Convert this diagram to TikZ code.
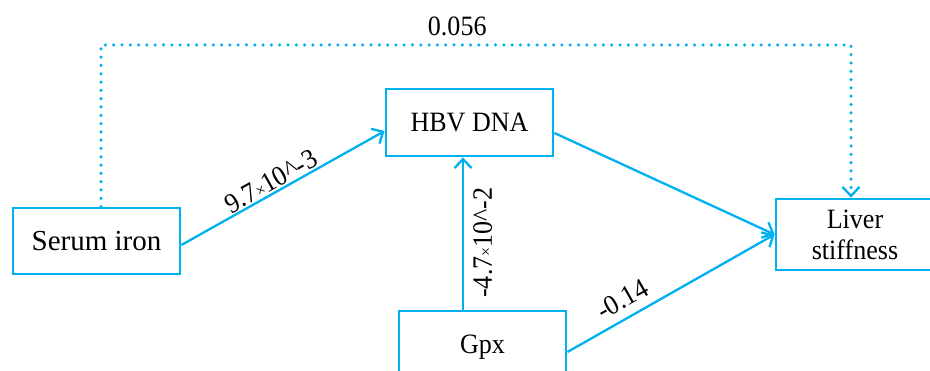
\documentclass[tikz,border=0pt]{standalone}
\usepackage{fontspec}
\setmainfont{Liberation Serif}[FakeStretch=0.93]
\newfontfamily\wideserif{Liberation Serif}
\usetikzlibrary{arrows.meta}
\definecolor{lblue}{RGB}{0,176,240}
\newcommand{\smx}{{\fontsize{17}{17}\selectfont\raisebox{0.5pt}{×}}}
\begin{document}
\begin{tikzpicture}[x=1pt,y=-1pt,
  box/.style={draw=lblue, line width=2.8pt, inner sep=0pt, align=center,
    font=\fontsize{28}{31}\selectfont},
  conn/.style={draw=lblue, line width=2.3pt,
    -{Straight Barb[length=9pt,width=17pt,line width=2.3pt]}},
  dotconn/.style={conn, dash pattern=on 0pt off 8.3pt, line cap=round, line width=3.5pt},
  lab/.style={font=\fontsize{28}{31}\selectfont, inner sep=0pt}
]
\useasboundingbox (0,0) rectangle (930,371);
\clip (0,0) rectangle (930,371);

\node[box, minimum width=167pt, minimum height=66pt, font=\wideserif\fontsize{29}{31}\selectfont] (serum) at (96.5,241) {Serum iron};
\node[box, minimum width=167pt, minimum height=67pt] (hbv) at (469.5,122.5) {HBV DNA};
\node[box, minimum width=158pt, minimum height=71pt] (liver) at (855,234.5) {Liver\\stiffness};
\node[box, minimum width=167pt, minimum height=72pt] (gpx) at (482.5,347) {Gpx};

\coordinate (tl) at (101,45);
\coordinate (tr) at (851,45);

\draw[dotconn] (serum.north -| tl) -- (tl) -- node[lab,pos=0.475,above=7pt]{0.056} (tr) -- (liver.north -| tr);

\draw[conn] ([yshift=-4pt]serum.east) -- node[lab,pos=0.47,above=1pt,sloped]{9.7\smx10\textasciicircum-3} ([yshift=-8.5pt]hbv.west);
\draw[conn] ([xshift=-19.5pt]gpx.north) -- node[lab,pos=0.44,below=9pt,sloped]{-4.7\smx10\textasciicircum-2} ([xshift=-6.5pt]hbv.south);
\draw[conn] ([yshift=-10.5pt]hbv.east) -- (liver.west);
\draw[conn] ([yshift=-5pt]gpx.east) -- node[lab,pos=0.31,above=8pt,sloped]{-0.14} (liver.west);
\end{tikzpicture}
\end{document}
